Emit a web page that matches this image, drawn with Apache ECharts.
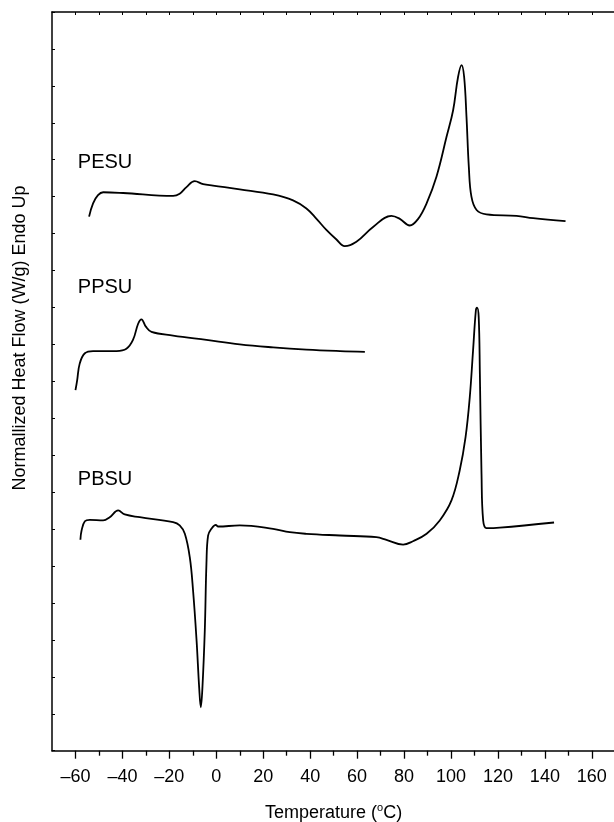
<!DOCTYPE html>
<html>
<head>
<meta charset="utf-8">
<script src="https://cdn.jsdelivr.net/npm/echarts@6/dist/echarts.min.js"></script>
<style>
html,body{margin:0;padding:0;background:#fff;}
#chart{width:614px;height:822px;}
</style>
</head>
<body>
<div id="chart"></div>
<script>
// ---- data (temperature in °C, normalized heat flow in arbitrary shifted units) ----
var pesuT = [-54.2,-52.5,-50.4,-48.2,-39.7,-18.4,-15.6,-12.7,-9.2,-5.6,-1.4,10,24.2,32.7,38.4,42.7,46.9,51.2,54.7,59.7,66.8,74.6,78.2,82.4,86,89.6,93.8,98.1,100.9,103,104.5,105.6,106.6,107.6,108.7,110.9,115.1,127.9,135,148.8];
var pesuHF = [7.23,7.41,7.52,7.56,7.55,7.51,7.54,7.63,7.71,7.67,7.65,7.60,7.53,7.45,7.34,7.20,7.05,6.92,6.83,6.89,7.09,7.24,7.20,7.11,7.20,7.41,7.77,8.31,8.67,9.12,9.28,9.12,8.58,7.90,7.50,7.32,7.26,7.24,7.21,7.17];

var ppsuT = [-60,-59.3,-58.2,-56.0,-52.5,-42.5,-38.3,-35.5,-33.3,-31.9,-30.0,-27.6,-18.4,-4.2,10,24.2,38.4,52.7,63.3];
var ppsuHF = [4.88,5.01,5.24,5.38,5.41,5.41,5.44,5.56,5.78,5.84,5.74,5.67,5.62,5.56,5.50,5.46,5.43,5.41,5.40];

var pbsuT = [-57.9,-57.4,-56.0,-53.9,-48.2,-45.4,-41.8,-39.0,-32.6,-18.4,-15.6,-13.4,-11.3,-9.9,-8.4,-7.3,-6.6,-5.9,-4.9,-4.2,-3.5,-2.1,-0.2,0.8,10,24.2,31.3,38.4,52.7,68.2,72.5,79.6,83.8,89.6,95.2,100.2,103.7,106.2,108.0,109.4,110.6,111.1,111.8,112.3,113.0,113.7,115.1,120.8,143.9];
var pbsuHF = [2.855,2.98,3.107,3.126,3.117,3.161,3.252,3.198,3.161,3.093,3.049,2.936,2.619,2.168,1.49,0.858,0.587,0.858,1.626,2.53,2.913,3.004,3.058,3.035,3.049,3.004,2.958,2.936,2.913,2.89,2.855,2.79,2.836,2.936,3.117,3.388,3.794,4.245,4.787,5.42,5.962,5.999,5.871,5.104,3.749,3.117,3.012,3.019,3.089];

var seriesNames = ['PESU','PPSU','PBSU'];
var labelT = [-59.0,-59.0,-59.0];
var labelHF = [7.96,6.27,3.665];

var xMajorTicks = [-60,-40,-20,0,20,40,60,80,100,120,140,160];
var xMinorTicks = [-50,-30,-10,10,30,50,70,90,110,130,150];
var xTopTicks = [-60,-50,-40,-30,-20,-10,0,10,20,30,40,50,60,70,80,90,100,110,120,130,140,150,160];

var xAxisTitle = 'Temperature (';
var yAxisTitle = 'Normallized Heat Flow (W/g) Endo Up';

function zip(a,b){var r=[];for(var i=0;i<a.length;i++)r.push([a[i],b[i]]);return r;}

var FONT = '"Liberation Sans", Arial, Helvetica, sans-serif';
var chart = echarts.init(document.getElementById('chart'), null, {renderer:'canvas'});

var lineStyle = {color:'#000', width:1.8};
function mkSeries(name, t, v){
  return {name:name, type:'line', data:zip(t,v), showSymbol:false, symbol:'none',
    smooth:0.4, lineStyle:lineStyle, itemStyle:{color:'#000'},
    xAxisIndex:0, yAxisIndex:0, animation:false, z:5};
}

var option = {
  animation:false,
  backgroundColor:'#fff',
  grid:{left:52, top:12, width:563.3, height:738.7, containLabel:false, outerBoundsMode:'none'},
  xAxis:[
    {type:'value', position:'bottom', min:-70, max:170,
     axisLine:{show:true, onZero:false, lineStyle:{color:'#000', width:1.5}},
     axisTick:{show:true, inside:false, length:8, customValues:xMajorTicks, lineStyle:{color:'#000', width:1.3}},
     axisLabel:{show:true, customValues:xMajorTicks, margin:17, color:'#000', fontSize:18, fontFamily:FONT,
       formatter:function(v){return v<0 ? '\u2013'+Math.abs(v) : String(v);}},
     splitLine:{show:false},
     name:'', nameLocation:'middle', nameGap:52,
     nameTextStyle:{color:'#000', fontSize:18, fontFamily:FONT}
    },
    {type:'value', position:'bottom', min:-70, max:170,
     axisLine:{show:false, onZero:false},
     axisTick:{show:true, inside:false, length:5, customValues:xMinorTicks, lineStyle:{color:'#000', width:1.3}},
     axisLabel:{show:false}, splitLine:{show:false}},
    {type:'value', position:'top', min:-70, max:170,
     axisLine:{show:true, onZero:false, lineStyle:{color:'#000', width:1.5}},
     axisTick:{show:true, inside:true, length:3, customValues:xTopTicks, lineStyle:{color:'#000', width:1}},
     axisLabel:{show:false}, splitLine:{show:false}}
  ],
  yAxis:[
    {type:'value', min:0, max:10, interval:0.5, position:'left',
     axisLine:{show:true, onZero:false, lineStyle:{color:'#000', width:1.5}},
     axisTick:{show:true, inside:true, length:3, lineStyle:{color:'#000', width:1}},
     axisLabel:{show:false}, splitLine:{show:false}}
  ],
  series:[
    mkSeries('PESU', pesuT, pesuHF),
    mkSeries('PPSU', ppsuT, ppsuHF),
    mkSeries('PBSU', pbsuT, pbsuHF)
  ]
};
// x axis title with superscript degree sign
option.xAxis[0].name = '{n|' + xAxisTitle + '}{s|o}{n|C)}';
option.xAxis[0].nameTextStyle.rich = {
  n:{fontSize:18, fontFamily:FONT, color:'#000'},
  s:{fontSize:11, fontFamily:FONT, color:'#000', verticalAlign:'top', padding:[0,0,10,0]}
};
chart.setOption(option);

var gfx = [];
for (var i=0;i<seriesNames.length;i++){
  var p = chart.convertToPixel({xAxisIndex:0, yAxisIndex:0}, [labelT[i], labelHF[i]]);
  gfx.push({type:'text', x:p[0], y:p[1], z:10,
    style:{text:seriesNames[i], fill:'#000', font:'20px ' + FONT, textAlign:'left', textVerticalAlign:'middle'}});
}
gfx.push({type:'text', x:20, y:338, rotation:Math.PI/2, z:10,
  style:{text:yAxisTitle, fill:'#000', font:'18px ' + FONT, textAlign:'center', textVerticalAlign:'middle'}});
chart.setOption({graphic:gfx});
</script>
</body>
</html>
